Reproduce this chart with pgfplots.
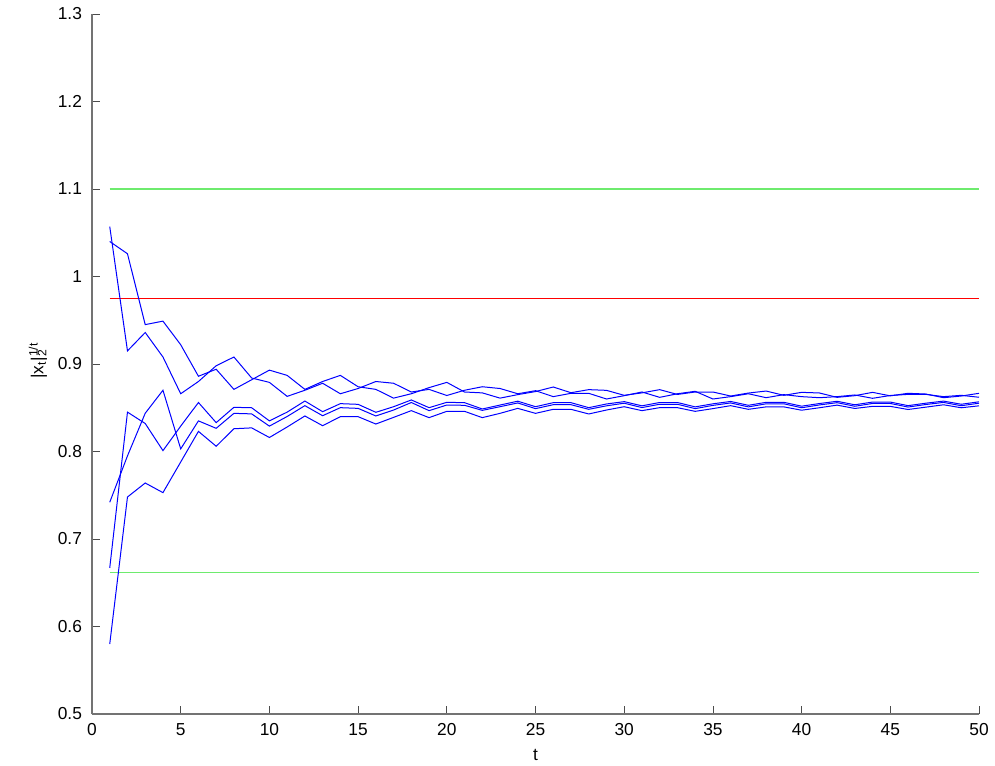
\documentclass[border=0pt]{standalone}
\usepackage{pgfplots}
\pgfplotsset{compat=1.18}
\usepackage{pgfplotstable}
\usepackage{fontspec}
\setmainfont{Liberation Sans}
\pgfplotstableread{
t A B C D E
1 1.057 1.040 0.742 0.667 0.580
2 0.915 1.026 0.795 0.845 0.748
3 0.936 0.945 0.8437 0.832 0.764
4 0.908 0.949 0.870 0.801 0.753
5 0.866 0.922 0.803 0.829 0.788
6 0.880 0.886 0.835 0.856 0.823
7 0.898 0.894 0.8265 0.833 0.806
8 0.908 0.871 0.8436 0.8505 0.826
9 0.884 0.882 0.843 0.850 0.827
10 0.879 0.893 0.829 0.835 0.816
11 0.863 0.887 0.840 0.845 0.828
12 0.870 0.871 0.8524 0.8577 0.8406
13 0.878 0.880 0.8409 0.8455 0.8295
14 0.866 0.887 0.8501 0.8547 0.8398
15 0.872 0.874 0.8493 0.8539 0.8398
16 0.880 0.871 0.8406 0.8448 0.8314
17 0.878 0.861 0.8474 0.8512 0.8390
18 0.868 0.866 0.8560 0.8589 0.8467
19 0.871 0.873 0.8467 0.8501 0.8387
20 0.864 0.879 0.8531 0.8562 0.8459
21 0.870 0.868 0.8528 0.8558 0.8459
22 0.874 0.867 0.8470 0.8486 0.8387
23 0.872 0.861 0.8512 0.8531 0.8436
24 0.866 0.865 0.8555 0.8575 0.8493
25 0.8695 0.8685 0.8490 0.8512 0.8436
26 0.8627 0.8737 0.8535 0.8558 0.8482
27 0.8665 0.8672 0.8535 0.8558 0.8482
28 0.8665 0.8707 0.8482 0.8501 0.8429
29 0.8600 0.8699 0.8522 0.8543 0.8474
30 0.8638 0.8642 0.8552 0.8570 0.8512
31 0.8680 0.8670 0.8502 0.8522 0.8467
32 0.8619 0.8707 0.8540 0.8560 0.8501
33 0.8660 0.8652 0.8540 0.8560 0.8501
34 0.8688 0.8680 0.8490 0.8510 0.8459
35 0.8600 0.8680 0.8527 0.8545 0.8490
36 0.8627 0.8634 0.8555 0.8572 0.8524
37 0.8660 0.8668 0.8510 0.8528 0.8482
38 0.8615 0.8691 0.8545 0.8562 0.8510
39 0.8650 0.8642 0.8545 0.8562 0.8510
40 0.8627 0.8676 0.8500 0.8518 0.8472
41 0.8615 0.8669 0.8532 0.8548 0.8500
42 0.8627 0.8619 0.8558 0.8574 0.8530
43 0.8646 0.8638 0.8517 0.8534 0.8492
44 0.8608 0.8676 0.8549 0.8565 0.8516
45 0.8640 0.8636 0.8549 0.8565 0.8516
46 0.8653 0.8665 0.8508 0.8524 0.8480
47 0.8653 0.8657 0.8537 0.8552 0.8507
48 0.8627 0.8615 0.8561 0.8576 0.8534
49 0.8642 0.8634 0.8523 0.8540 0.8500
50 0.8620 0.8665 0.8552 0.8568 0.8522
}\data
\definecolor{lgreen}{RGB}{110,235,110}
\begin{document}
\fontsize{13}{15.6}\selectfont
\begin{tikzpicture}
\begin{axis}[
  at={(0,0)}, anchor=south west,
  scale only axis, width=665.25pt, height=525pt,
  xmin=0, xmax=50, ymin=0.5, ymax=1.3,
  xtick={0,5,...,50}, ytick={0.5,0.6,...,1.3},
  axis x line*=bottom, axis y line*=left,
  axis line style={black!55, line width=0.8pt},
  tick style={black!70, line width=0.6pt},
  tick align=inside, major tick length=6pt,
  /pgf/number format/assume math mode=true,
  /pgf/number format/fixed,
  ticklabel style={font=\fontsize{13}{15.6}\selectfont},
  yticklabel style={xshift=-3pt},
  xticklabel style={yshift=-2.4pt},
  xlabel={t},
  label style={font=\fontsize{13}{15.6}\selectfont},
  xlabel style={at={(axis description cs:0.5,-0.0586)}, anchor=center},
  clip=false,
]
\addplot[lgreen, line width=1pt] coordinates {(1,1.1) (50,1.1)};
\addplot[lgreen, line width=1pt] coordinates {(1,0.662) (50,0.662)};
\addplot[red, line width=0.75pt] coordinates {(1,0.975) (50,0.975)};
\addplot[blue, line width=0.75pt] table[x=t, y=A] {\data};
\addplot[blue, line width=0.75pt] table[x=t, y=B] {\data};
\addplot[blue, line width=0.75pt] table[x=t, y=C] {\data};
\addplot[blue, line width=0.75pt] table[x=t, y=D] {\data};
\addplot[blue, line width=0.75pt] table[x=t, y=E] {\data};
\node[rotate=90, anchor=center, font=\fontsize{13}{15.6}\selectfont] at (axis description cs:-0.0609,0.5) {|x\textsubscript{t}|\rlap{\textsuperscript{1/t}}\textsubscript{2}};
\end{axis}
\pgfresetboundingbox
\path[use as bounding box] (-69pt,-38.25pt) rectangle (677.25pt,535.5pt);
\end{tikzpicture}
\end{document}
